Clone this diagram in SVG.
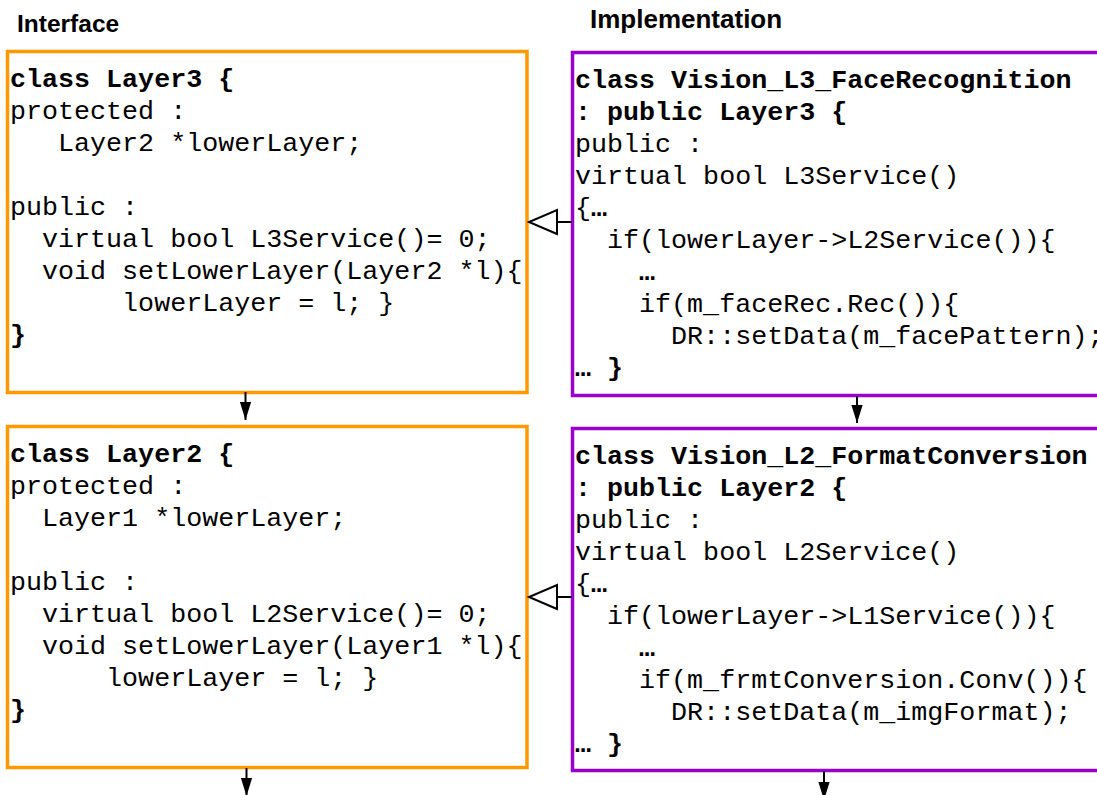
<svg xmlns="http://www.w3.org/2000/svg" width="1097" height="795" viewBox="0 0 1097 795" xml:space="preserve">
<style>
.code{font-family:"Liberation Mono","Courier New",monospace;font-size:26.7px;fill:#000;white-space:pre}
.b{font-weight:bold}
.head{font-family:"Liberation Sans",Arial,sans-serif;font-weight:bold;fill:#000}
.iface{fill:#fff;stroke:#FF9900;stroke-width:3.5}
.impl{fill:#fff;stroke:#9900CC;stroke-width:3.5}
.conn{stroke:#000;stroke-width:2;fill:none}
</style>
<defs>
<marker id="arrow" markerUnits="userSpaceOnUse" markerWidth="18" markerHeight="12" viewBox="0 0 16 10" refX="16" refY="5" orient="auto">
<path d="M0,0 L16,5 L0,10 z" fill="#000"/>
</marker>
<marker id="tri" markerUnits="userSpaceOnUse" markerWidth="34" markerHeight="30" viewBox="-3 -3 34 30" refX="28" refY="12" orient="auto">
<path d="M0,0 L28,12 L0,24 z" fill="#fff" stroke="#000" stroke-width="2"/>
</marker>
</defs>
<rect width="1097" height="795" fill="#fff"/>
<text class="head" x="17" y="32" font-size="24.5">Interface</text>
<text class="head" x="590" y="28" font-size="26">Implementation</text>

<g id="layer3">
<rect class="iface" x="7.5" y="51.5" width="519.5" height="341"/>
<text class="code b" x="10" y="87">class Layer3 {</text>
<text class="code" x="10" y="119">protected :</text>
<text class="code" x="10" y="151">   Layer2 *lowerLayer;</text>
<text class="code" x="10" y="215">public :</text>
<text class="code" x="10" y="247">  virtual bool L3Service()= 0;</text>
<text class="code" x="10" y="279">  void setLowerLayer(Layer2 *l){</text>
<text class="code" x="10" y="311">       lowerLayer = l; }</text>
<text class="code b" x="10" y="343">}</text>
</g>

<g id="layer2">
<rect class="iface" x="7.5" y="426.5" width="519.5" height="341"/>
<text class="code b" x="10" y="462">class Layer2 {</text>
<text class="code" x="10" y="494">protected :</text>
<text class="code" x="10" y="526">  Layer1 *lowerLayer;</text>
<text class="code" x="10" y="590">public :</text>
<text class="code" x="10" y="622">  virtual bool L2Service()= 0;</text>
<text class="code" x="10" y="654">  void setLowerLayer(Layer1 *l){</text>
<text class="code" x="10" y="686">      lowerLayer = l; }</text>
<text class="code b" x="10" y="718">}</text>
</g>

<g id="vision_l3">
<rect class="impl" x="572.5" y="52.5" width="600" height="343"/>
<text class="code b" x="575" y="88">class Vision_L3_FaceRecognition</text>
<text class="code b" x="575" y="120">: public Layer3 {</text>
<text class="code" x="575" y="152">public :</text>
<text class="code" x="575" y="184">virtual bool L3Service()</text>
<text class="code" x="575" y="216">{<tspan class="b">…</tspan></text>
<text class="code" x="575" y="248">  if(lowerLayer->L2Service()){</text>
<text class="code b" x="575" y="280">    …</text>
<text class="code" x="575" y="312">    if(m_faceRec.Rec()){</text>
<text class="code" x="575" y="344">      DR::setData(m_facePattern);</text>
<text class="code b" x="575" y="376">… }</text>
</g>

<g id="vision_l2">
<rect class="impl" x="572.5" y="428.5" width="600" height="342"/>
<text class="code b" x="575" y="464">class Vision_L2_FormatConversion</text>
<text class="code b" x="575" y="496">: public Layer2 {</text>
<text class="code" x="575" y="528">public :</text>
<text class="code" x="575" y="560">virtual bool L2Service()</text>
<text class="code" x="575" y="592">{<tspan class="b">…</tspan></text>
<text class="code" x="575" y="624">  if(lowerLayer->L1Service()){</text>
<text class="code b" x="575" y="656">    …</text>
<text class="code" x="575" y="688">    if(m_frmtConversion.Conv()){</text>
<text class="code" x="575" y="720">      DR::setData(m_imgFormat);</text>
<text class="code b" x="575" y="752">… }</text>
</g>

<g id="connectors">
<line class="conn" x1="245.5" y1="392" x2="245.5" y2="420" marker-end="url(#arrow)"/>
<line class="conn" x1="857" y1="396" x2="857" y2="423" marker-end="url(#arrow)"/>
<line class="conn" x1="246.5" y1="768" x2="246.5" y2="796" marker-end="url(#arrow)"/>
<line class="conn" x1="824" y1="771" x2="824" y2="800" marker-end="url(#arrow)"/>
<line class="conn" x1="572" y1="222" x2="529" y2="222" marker-end="url(#tri)"/>
<line class="conn" x1="572" y1="597" x2="529" y2="597" marker-end="url(#tri)"/>
</g>
</svg>
